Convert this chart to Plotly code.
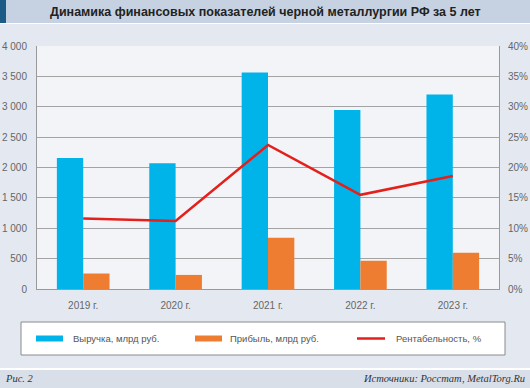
import plotly.graph_objects as go

years = ["2019 г.", "2020 г.", "2021 г.", "2022 г.", "2023 г."]
revenue = [2155, 2070, 3565, 2945, 3200]
profit = [255, 232, 845, 465, 597]
profitability = [11.6, 11.2, 23.7, 15.5, 18.6]
names = ["Выручка, млрд руб.", "Прибыль, млрд руб.", "Рентабельность, %"]
colors = ["#00b4ea", "#ef7d31", "#e3201b"]

W, H = 530, 388
L, R, T, B = 37, 499, 46, 289

def px(x):
    return (x - L) / (R - L)

def py(y):
    return (B - y) / (B - T)

fig = go.Figure()
fig.add_trace(go.Bar(x=years, y=revenue, name=names[0], marker_color=colors[0],
                     marker_line_width=0))
fig.add_trace(go.Bar(x=years, y=profit, name=names[1], marker_color=colors[1],
                     marker_line_width=0))
fig.add_trace(go.Scatter(x=years, y=profitability, name=names[2], yaxis="y2",
                         mode="lines", line=dict(color=colors[2], width=2.5)))

shapes = []
# title band
shapes.append(dict(type="rect", xref="paper", yref="paper", x0=px(0), x1=px(W), y0=py(0), y1=py(23),
                   fillcolor="#c6d2e1", line_width=0, layer="below"))
shapes.append(dict(type="rect", xref="paper", yref="paper", x0=px(0), x1=px(6), y0=py(0), y1=py(23),
                   fillcolor="#1d5b87", line_width=0, layer="below"))
shapes.append(dict(type="rect", xref="paper", yref="paper", x0=px(0), x1=px(W), y0=py(23), y1=py(24),
                   fillcolor="#ffffff", line_width=0, layer="below"))
# bottom band
shapes.append(dict(type="rect", xref="paper", yref="paper", x0=px(0), x1=px(W), y0=py(368), y1=py(370),
                   fillcolor="#ffffff", line_width=0, layer="below"))
shapes.append(dict(type="rect", xref="paper", yref="paper", x0=px(0), x1=px(W), y0=py(370), y1=py(H),
                   fillcolor="#d8dfe9", line_width=0, layer="below"))
# legend box
shapes.append(dict(type="rect", xref="paper", yref="paper", x0=px(21), x1=px(505), y0=py(322), y1=py(355),
                   fillcolor="#ffffff", line=dict(color="#8a8a8a", width=1), layer="below"))
ly = 338.5
shapes.append(dict(type="rect", xref="paper", yref="paper", x0=px(36), x1=px(63), y0=py(ly - 3), y1=py(ly + 3),
                   fillcolor=colors[0], line_width=0))
shapes.append(dict(type="rect", xref="paper", yref="paper", x0=px(195), x1=px(222), y0=py(ly - 3), y1=py(ly + 3),
                   fillcolor=colors[1], line_width=0))
shapes.append(dict(type="line", xref="paper", yref="paper", x0=px(357), x1=px(385), y0=py(ly), y1=py(ly),
                   line=dict(color=colors[2], width=2.5)))

annotations = [
    dict(text="<b>Динамика финансовых показателей черной металлургии РФ за 5 лет</b>",
         xref="paper", yref="paper", x=px(265), y=py(12), xanchor="center", yanchor="middle",
         showarrow=False, font=dict(family="Liberation Sans, Arial", size=12.5, color="#222222")),
    dict(text="<i>Рис. 2</i>", xref="paper", yref="paper", x=px(3), y=py(379), xanchor="left", yanchor="middle",
         showarrow=False, font=dict(family="Liberation Serif", size=10.5, color="#333333")),
    dict(text="<i>Источники: Росстат, MetalTorg.Ru</i>", xref="paper", yref="paper", x=px(527), y=py(379),
         xanchor="right", yanchor="middle", showarrow=False,
         font=dict(family="Liberation Serif", size=10.5, color="#333333")),
]
for nm, x0 in zip(names, [71, 228, 394]):
    annotations.append(dict(text=nm, xref="paper", yref="paper", x=px(x0), y=py(ly), xanchor="left",
                            yanchor="middle", showarrow=False,
                            font=dict(family="Liberation Sans, Arial", size=9.5, color="#555555")))

fig.update_layout(
    width=W, height=H,
    margin=dict(l=L, r=W - R, t=T, b=H - B, pad=0, autoexpand=False),
    paper_bgcolor="#e4e9f1",
    plot_bgcolor="#f3f4f8",
    barmode="group",
    bargap=0.43,
    bargroupgap=0,
    showlegend=False,
    separators=", ",
    font=dict(family="Liberation Sans, Arial", size=10, color="#666666"),
    shapes=shapes,
    annotations=annotations,
    xaxis=dict(showgrid=False, showline=True, linecolor="#9a9a9a", linewidth=1, ticks="",
               automargin=False,
               tickfont=dict(size=10, color="#666666"), ticklabelstandoff=7, fixedrange=True),
    yaxis=dict(range=[0, 4000], dtick=500, tickformat=",d", showgrid=True, gridcolor="#a3a3a3",
               automargin=False,
               gridwidth=1, showline=True, linecolor="#9a9a9a", linewidth=1, zeroline=False,
               ticks="", ticklabelstandoff=7, tickfont=dict(size=10, color="#666666")),
    yaxis2=dict(range=[0, 40], dtick=5, ticksuffix="%", overlaying="y", side="right", showgrid=False,
                automargin=False,
                showline=True, linecolor="#9a9a9a", linewidth=1, zeroline=False, ticks="",
                ticklabelstandoff=6, tickfont=dict(size=10, color="#666666")),
)

fig.write_html("out.html", config={"displayModeBar": False},
               post_script="document.body.style.margin='0';document.body.style.padding='0';")
